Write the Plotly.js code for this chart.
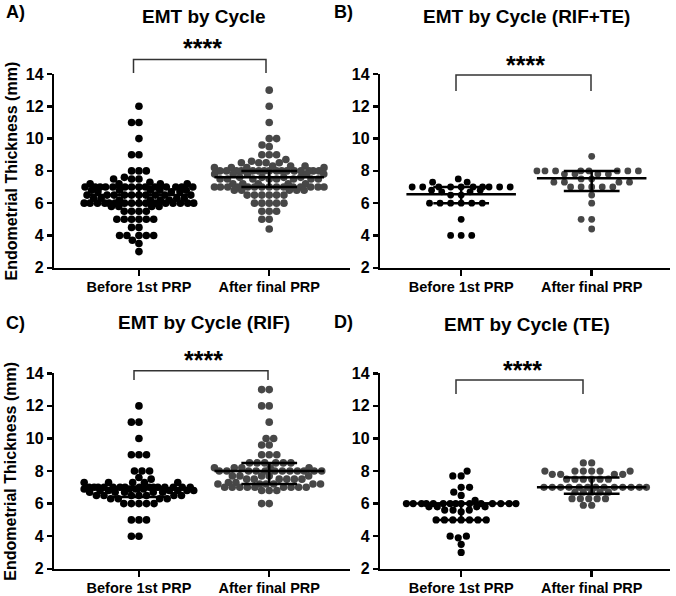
<!DOCTYPE html>
<html><head><meta charset="utf-8">
<script src="https://cdn.plot.ly/plotly-3.0.1.min.js"></script>
<style>html,body{margin:0;padding:0;background:#fff}</style>
</head><body><div id="chart" style="width:676px;height:596px"></div>
<script>
const categories = ['Before 1st PRP', 'After final PRP'];
const panelTitles = ['EMT by Cycle', 'EMT by Cycle (RIF+TE)', 'EMT by Cycle (RIF)', 'EMT by Cycle (TE)'];
const panelLetters = ['A)', 'B)', 'C)', 'D)'];
const yTicks = [2, 4, 6, 8, 10, 12, 14];
const yTitle = 'Endometrial Thickness (mm)';
const sigLabel = '****';

// Panel A: all cycles
const allBefore = [12.0, 11.0, 11.0, 10.0, 9.0, 9.0, 8.0, 8.0, 8.0, 7.6, 7.5, 7.5, 7.5,
  7.3, 7.2, 7.2, 7.2, 7.2, 7.0, 7.0, 7.0, 7.0, 7.0, 7.0, 7.0, 7.0, 7.0, 7.0, 7.0, 7.0, 7.0, 7.0,
  6.8, 6.8, 6.8, 6.8, 6.8, 6.7, 6.7, 6.7, 6.5, 6.5, 6.5, 6.5, 6.5, 6.5, 6.5, 6.5, 6.5, 6.5,
  6.3, 6.3, 6.3, 6.3, 6.2, 6.2, 6.2, 6.2, 6.0, 6.0, 6.0, 6.0, 6.0, 6.0, 6.0, 6.0, 6.0, 6.0, 6.0, 6.0, 6.0, 6.0, 6.0, 6.0,
  5.8, 5.8, 5.8, 5.8, 5.5, 5.5, 5.5, 5.5, 5.0, 5.0, 5.0, 5.0, 5.0, 5.0, 4.5, 4.5,
  4.0, 4.0, 4.0, 4.0, 4.0, 3.7, 3.5, 3.0];
const allAfter = [13.0, 12.0, 11.0, 10.0, 10.0, 9.6, 9.5, 9.0, 9.0, 9.0, 8.7, 8.6, 8.5, 8.5, 8.5, 8.5,
  8.3, 8.3, 8.3, 8.2, 8.2, 8.2, 8.2, 8.0, 8.0, 8.0, 8.0, 8.0, 8.0, 8.0, 8.0, 8.0, 8.0, 8.0, 8.0, 8.0, 8.0, 8.0, 8.0,
  7.8, 7.8, 7.8, 7.8, 7.8, 7.6, 7.6, 7.6, 7.6, 7.5, 7.5, 7.5, 7.5, 7.5, 7.5, 7.5, 7.5,
  7.2, 7.2, 7.2, 7.2, 7.2, 7.0, 7.0, 7.0, 7.0, 7.0, 7.0, 7.0, 7.0, 7.0, 7.0, 7.0, 7.0, 7.0, 7.0, 7.0,
  6.8, 6.8, 6.8, 6.8, 6.8, 6.5, 6.5, 6.5, 6.5, 6.5, 6.5, 6.0, 6.0, 6.0, 6.0, 6.0, 5.5, 5.5, 5.5, 5.0, 5.0, 4.4];
// Panel B: RIF+TE
const rifTeBefore = [7.5, 7.3, 7.3, 7.0, 7.0, 7.0, 7.0, 7.0, 7.0, 7.0, 7.0, 7.0, 7.0, 6.8, 6.8, 6.7, 6.7,
  6.5, 6.5, 6.0, 6.0, 6.0, 6.0, 6.0, 6.0, 5.0, 4.0, 4.0, 4.0];
const rifTeAfter = [8.9, 8.0, 8.0, 8.0, 8.0, 8.0, 8.0, 8.0, 8.0, 7.8, 7.8, 7.8, 7.8, 7.5, 7.5, 7.3, 7.3, 7.3, 7.3,
  7.0, 7.0, 7.0, 7.0, 7.0, 6.5, 6.0, 5.0, 5.0, 4.4];
// Panel C: RIF
const rifBefore = [12.0, 11.0, 11.0, 10.0, 9.0, 9.0, 9.0, 8.0, 8.0, 8.0, 7.6, 7.5, 7.3, 7.3, 7.3, 7.3, 7.3,
  7.0, 7.0, 7.0, 7.0, 7.0, 7.0, 7.0, 7.0, 7.0, 7.0, 7.0, 7.0, 7.0, 7.0, 7.0, 6.9, 6.9, 6.9, 6.9,
  6.8, 6.8, 6.8, 6.8, 6.8, 6.8, 6.7, 6.7, 6.7, 6.7, 6.7, 6.5, 6.5, 6.5, 6.5, 6.5, 6.5, 6.5,
  6.3, 6.3, 6.3, 6.3, 6.0, 6.0, 6.0, 6.0, 6.0, 5.0, 5.0, 5.0, 4.0, 4.0];
const rifAfter = [13.0, 13.0, 12.0, 12.0, 11.0, 10.0, 10.0, 9.6, 9.6, 9.0, 9.0, 9.0, 8.5, 8.5, 8.5, 8.5, 8.5, 8.5,
  8.2, 8.2, 8.2, 8.2, 8.2, 8.0, 8.0, 8.0, 8.0, 8.0, 8.0, 8.0, 8.0, 8.0, 8.0, 8.0, 8.0,
  7.7, 7.7, 7.7, 7.7, 7.7, 7.5, 7.5, 7.5, 7.5, 7.5, 7.5, 7.3, 7.3, 7.2, 7.2, 7.2, 7.2, 7.2, 7.2,
  7.0, 7.0, 7.0, 7.0, 7.0, 7.0, 7.0, 7.0, 7.0, 6.8, 6.8, 6.8, 6.0, 6.0];
// Panel D: TE
const teBefore = [8.0, 7.7, 7.7, 7.0, 7.0, 6.7, 6.5, 6.2, 6.0, 6.0, 6.0, 6.0, 6.0, 6.0, 6.0, 6.0, 6.0, 6.0, 6.0, 6.0, 6.0, 6.0, 6.0,
  5.8, 5.8, 5.8, 5.8, 5.6, 5.6, 5.6, 5.5, 5.0, 5.0, 5.0, 5.0, 5.0, 5.0, 5.0, 4.0, 4.0, 3.9, 3.5, 3.0];
const teAfter = [8.5, 8.5, 8.0, 8.0, 8.0, 8.0, 8.0, 8.0, 7.8, 7.8, 7.8, 7.8, 7.5, 7.5, 7.5, 7.5, 7.5, 7.5,
  7.0, 7.0, 7.0, 7.0, 7.0, 7.0, 7.0, 7.0, 7.0, 7.0, 7.0, 7.0, 7.0, 6.7, 6.7, 6.7, 6.7, 6.7,
  6.3, 6.3, 6.3, 6.3, 6.3, 5.9, 5.9];

// summary lines per panel: [before, after]
const centerLine = [[6.5, 7.6], [6.55, 7.55], [6.9, 8.0], [6.0, 7.0]];
const lowerBar = [[6.0, 7.0], [6.0, 6.75], [6.4, 7.2], [5.0, 6.6]];
const upperBar = [[7.0, 8.0], [7.0, 8.0], [7.0, 8.5], [6.0, 7.6]];

const panelData = [[allBefore, allAfter], [rifTeBefore, rifTeAfter], [rifBefore, rifAfter], [teBefore, teAfter]];

// ---------- layout geometry (pixels) ----------
const W = 676, H = 596;
const boxes = [
  {x0: 53, x1: 350, yT: 74, yB: 269, r: [-0.65, 1.62], sx: 7.4, sy: 7.2, ms: 7.6},
  {x0: 379, x1: 670, yT: 74, yB: 269, r: [-0.62, 1.60], sx: 10.6, sy: 6.0, ms: 6.8},
  {x0: 53, x1: 350, yT: 373.3, yB: 570, r: [-0.65, 1.62], sx: 7.6, sy: 7.2, ms: 7.6},
  {x0: 379, x1: 670, yT: 373.3, yB: 570, r: [-0.62, 1.60], sx: 8.4, sy: 7.0, ms: 7.2}
];
const LW = 2.5;
const FONT = 'Liberation Sans, Arial, Helvetica, sans-serif';
const MAXW = 55, CAPW = 28;

function swarm(vals, pxY, sx, sy, maxW) {
  const order = vals.map((v, i) => i).sort((a, b) => vals[a] - vals[b]);
  const placed = [];
  const out = new Array(vals.length);
  const dist2 = (p, c, y) => ((p.x - c) / sx) ** 2 + ((p.y - y) / sy) ** 2;
  for (const i of order) {
    const y = vals[i] * pxY;
    const near = placed.filter(p => Math.abs(p.y - y) < sy);
    const cands = [0];
    for (const p of near) {
      const dx = sx * Math.sqrt(Math.max(0, 1 - ((p.y - y) / sy) ** 2));
      cands.push(p.x + dx, p.x - dx);
    }
    cands.sort((a, b) => (Math.abs(a) - Math.abs(b)) || (a - b));
    let chosen = null;
    for (const c of cands) {
      if (Math.abs(c) > maxW + 0.01) continue;
      if (near.every(p => dist2(p, c, y) >= 0.999)) { chosen = c; break; }
    }
    if (chosen === null) {
      let best = 0, bestScore = -1;
      for (let c = -maxW; c <= maxW + 0.001; c += 0.5) {
        let m = Infinity;
        for (const p of near) m = Math.min(m, dist2(p, c, y));
        if (m > bestScore) { bestScore = m; best = c; }
      }
      chosen = best;
    }
    placed.push({x: chosen, y});
    out[i] = chosen;
  }
  return out;
}

const traces = [];
const layout = {
  width: W, height: H, margin: {l: 0, r: 0, t: 0, b: 0},
  paper_bgcolor: '#fff', plot_bgcolor: 'rgba(0,0,0,0)', showlegend: false,
  font: {family: FONT, color: '#000'},
  annotations: [], shapes: []
};
const colors = ['#000000', '#474747'];
const px = v => v / W, py = v => 1 - v / H;

boxes.forEach((b, p) => {
  const n = p === 0 ? '' : String(p + 1);
  const ppuX = (b.x1 - b.x0) / (b.r[1] - b.r[0]);
  const ppuY = (b.yB - b.yT) / 12;
  layout['xaxis' + n] = {
    domain: [px(b.x0 + LW / 2), px(b.x1)], range: b.r, anchor: 'y' + n,
    tickvals: [0, 1], ticktext: categories, ticks: 'outside', ticklen: 6, tickwidth: LW, tickcolor: '#000',
    showline: true, linewidth: LW, linecolor: '#000', showgrid: false, zeroline: false,
    ticklabelstandoff: -2,
    tickfont: {family: FONT, size: 14.5, weight: 'bold', color: '#000'}, fixedrange: true
  };
  layout['yaxis' + n] = {
    domain: [py(b.yB - LW / 2), py(b.yT)], range: [2, 14], anchor: 'x' + n,
    tickvals: yTicks, ticks: 'outside', ticklen: 5, tickwidth: LW, tickcolor: '#000',
    showline: true, linewidth: LW, linecolor: '#000', showgrid: false, zeroline: false,
    tickfont: {family: FONT, size: 16, weight: 'bold', color: '#000'}, fixedrange: true
  };
  panelData[p].forEach((vals, g) => {
    const offs = swarm(vals, ppuY, b.sx, b.sy, MAXW);
    traces.push({
      type: 'scatter', mode: 'markers', xaxis: 'x' + n, yaxis: 'y' + n,
      x: offs.map(o => g + o / ppuX), y: vals, cliponaxis: false,
      marker: {size: b.ms, color: colors[g], line: {width: 0}}, hoverinfo: 'y'
    });
    const c = centerLine[p][g], lo = lowerBar[p][g], hi = upperBar[p][g];
    const wc = MAXW / ppuX, wk = CAPW / ppuX;
    traces.push({
      type: 'scatter', mode: 'lines', xaxis: 'x' + n, yaxis: 'y' + n, cliponaxis: false,
      x: [g - wc, g + wc, null, g - wk, g + wk, null, g - wk, g + wk, null, g, g],
      y: [c, c, null, hi, hi, null, lo, lo, null, lo, hi],
      line: {color: '#000', width: LW}, hoverinfo: 'skip'
    });
  });
});

// titles, letters, y titles
const titleY = [17, 17, 322, 324];
const letterPos = [[4, 12], [332, 12], [4, 323], [332, 322]];
boxes.forEach((b, p) => {
  layout.annotations.push({
    xref: 'paper', yref: 'paper', x: px((b.x0 + b.x1) / 2 + 2), y: py(titleY[p]), xanchor: 'center', yanchor: 'middle',
    text: panelTitles[p], showarrow: false, font: {family: FONT, size: 19, weight: 'bold', color: '#000'}
  });
  layout.annotations.push({
    xref: 'paper', yref: 'paper', x: px(letterPos[p][0]), y: py(letterPos[p][1]), xanchor: 'left', yanchor: 'middle',
    text: panelLetters[p], showarrow: false, font: {family: FONT, size: 18, weight: 'bold', color: '#000'}
  });
  if (p % 2 === 0) {
    layout.annotations.push({
      xref: 'paper', yref: 'paper', x: px(11), y: py((b.yT + b.yB) / 2), xanchor: 'center', yanchor: 'middle',
      textangle: -90, text: yTitle, showarrow: false, font: {family: FONT, size: 16, weight: 'bold', color: '#000'}
    });
  }
});

// significance brackets (pixel geometry)
const brackets = [
  {xl: 133.5, xr: 266, top: 59.5, leg: 73, star: [202, 48]},
  {xl: 456, xr: 591, top: 75, leg: 91, star: [525, 65]},
  {xl: 134, xr: 268, top: 370.7, leg: 380, star: [203.5, 359.5]},
  {xl: 456, xr: 583, top: 380, leg: 394, star: [522, 369.5]}
];
brackets.forEach(k => {
  layout.shapes.push({
    type: 'path', xref: 'paper', yref: 'paper',
    path: `M ${px(k.xl)},${py(k.leg)} L ${px(k.xl)},${py(k.top)} L ${px(k.xr)},${py(k.top)} L ${px(k.xr)},${py(k.leg)}`,
    line: {color: '#333', width: 1.5}
  });
  layout.annotations.push({
    xref: 'paper', yref: 'paper', x: px(k.star[0]), y: py(k.star[1]), xanchor: 'center', yanchor: 'middle',
    text: sigLabel, showarrow: false, font: {family: FONT, size: 25, weight: 'bold', color: '#000'}
  });
});

Plotly.newPlot('chart', traces, layout, {staticPlot: true, displayModeBar: false});
</script>
</body></html>
